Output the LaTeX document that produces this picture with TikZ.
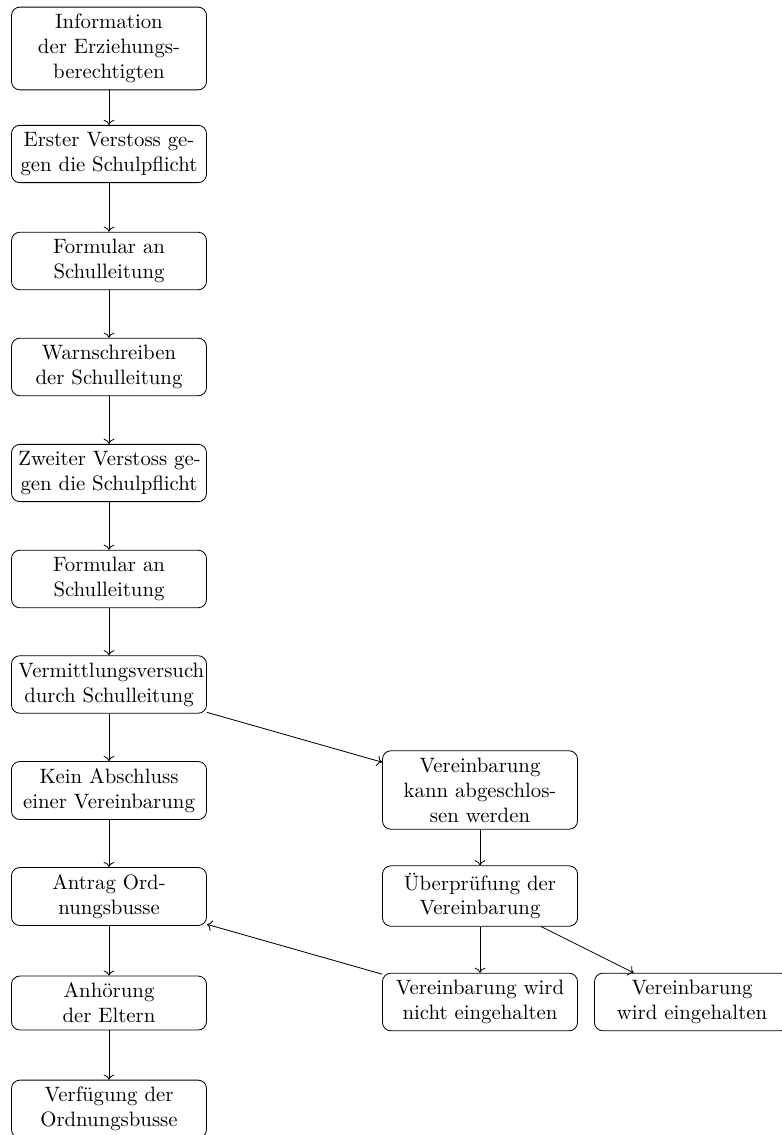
\documentclass[tikz,border=0pt]{standalone}
\usetikzlibrary{arrows.meta}
\begin{document}
\begin{tikzpicture}[x=0.4808pt,y=-0.4808pt,
  box/.style={draw,rounded corners=4pt,align=center,text width=87.1pt,inner sep=3.33pt},
  arr/.style={->}]
\useasboundingbox (0,0) rectangle (781,1135);
\node[box] (n1) at (109,48.5) {Information\\der Erziehungs-\\berechtigten};
\node[box] (n2) at (109,154) {\mbox{Erster Verstoss ge-}\\\mbox{gen die Schulpflicht}};
\node[box] (n3) at (109,261) {Formular an\\Schulleitung};
\node[box] (n4) at (109,367) {Warnschreiben\\der Schulleitung};
\node[box] (n5) at (109,473) {\mbox{Zweiter Verstoss ge-}\\\mbox{gen die Schulpflicht}};
\node[box] (n6) at (109,579) {Formular an\\Schulleitung};
\node[box] (n7) at (109,684.5) {\mbox{Vermittlungsversuch}\\durch Schulleitung};
\node[box] (n8) at (109,790.5) {Kein Abschluss\\einer Vereinbarung};
\node[box] (n9) at (109,896.5) {Antrag Ord-\\nungsbusse};
\node[box] (n10) at (109,1003) {Anhörung\\der Eltern};
\node[box] (n11) at (109,1109) {Verfügung der\\Ordnungsbusse};
\node[box] (r1) at (480,790) {Vereinbarung\\kann abgeschlos-\\sen werden};
\node[box] (r2) at (480,896) {Überprüfung der\\Vereinbarung};
\node[box] (r3) at (480,1002) {\mbox{Vereinbarung wird}\\nicht eingehalten};
\node[box] (r4) at (692,1002) {Vereinbarung\\wird eingehalten};
\draw[arr] (n1) -- (n2);
\draw[arr] (n2) -- (n3);
\draw[arr] (n3) -- (n4);
\draw[arr] (n4) -- (n5);
\draw[arr] (n5) -- (n6);
\draw[arr] (n6) -- (n7);
\draw[arr] (n7) -- (n8);
\draw[arr] (n8) -- (n9);
\draw[arr] (n9) -- (n10);
\draw[arr] (n10) -- (n11);
\draw[arr] (n7) -- (r1);
\draw[arr] (r1) -- (r2);
\draw[arr] (r2) -- (r3);
\draw[arr] (r2) -- (r4);
\draw[arr] (r3) -- (n9);
\end{tikzpicture}
\end{document}
